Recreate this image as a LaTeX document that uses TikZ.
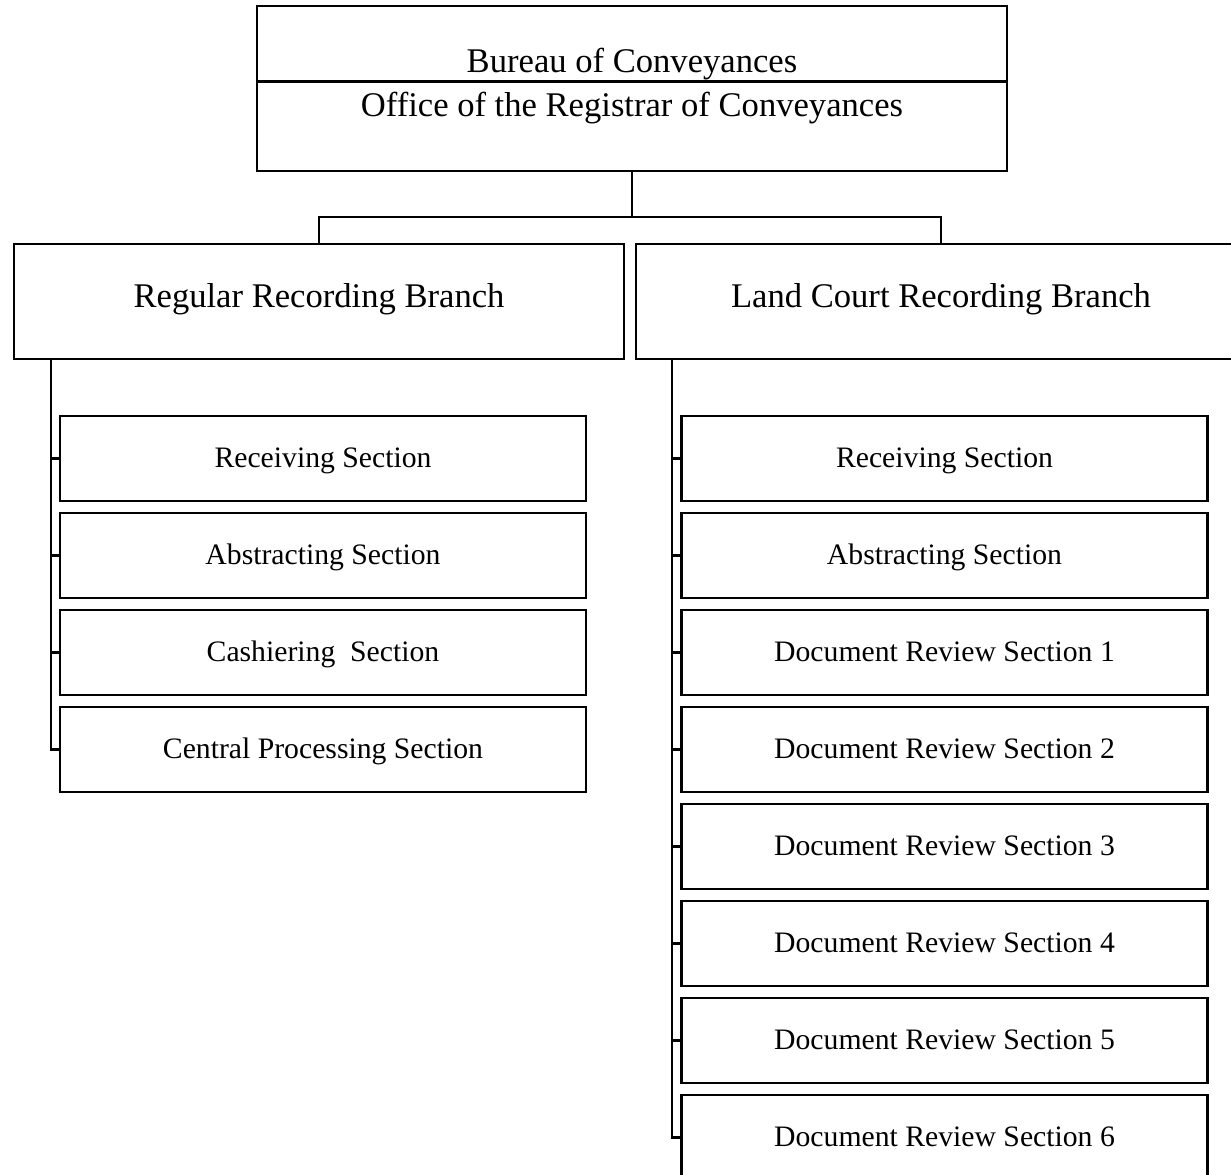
\documentclass[tikz,border=0pt]{standalone}
\usepackage{fontspec}
\setmainfont{Liberation Serif}
\begin{document}
\begin{tikzpicture}[x=1bp,y=-1bp,
  box/.style={draw,line width=2.7bp,rectangle,inner sep=0pt,outer sep=0pt},
  bigtext/.style={font=\fontsize{34.6bp}{40bp}\selectfont},
  smalltext/.style={font=\fontsize{29.7bp}{34bp}\selectfont},
  branchbox/.style={box,bigtext,minimum width=610bp,minimum height=115bp,text height=24bp,text depth=13bp},
  secbox/.style={box,smalltext,minimum width=526bp,minimum height=85bp,text height=20bp,text depth=3bp},
  conn/.style={line width=2.2bp}]
\useasboundingbox (0,0) rectangle (1231,1175);
\clip (0,0) rectangle (1231,1175);
% top
\node[box,minimum width=750bp,minimum height=165bp] (top) at (632,88.5) {};
\draw[line width=2.7bp] (top.west |- 0,81.5) coordinate (dl) -- (top.east |- dl) coordinate (dr);
\node[bigtext,inner sep=0pt,anchor=base] (bureau) at (632,72) {Bureau of Conveyances};
\node[bigtext,inner sep=0pt,anchor=base] (office) at (632,116) {Office of the Registrar of Conveyances};
% branches
\node[branchbox] (lb) at (319,301.5) {Regular Recording Branch};
\node[branchbox] (rb) at (941,301.5) {Land Court Recording Branch};
\coordinate (j) at (632,217);
\draw[conn] (top.south) -- (j);
\draw[conn] (lb.north) |- (j) -| (rb.north);
% left sections
\node[secbox] (l1) at (323,458.5) {Receiving Section};
\node[secbox] (l2) at (323,555.5) {Abstracting Section};
\node[secbox] (l3) at (323,652.5) {Cashiering\ \ Section};
\node[secbox] (l4) at (323,749.5) {Central Processing Section};
\coordinate (lt) at (51,359);
\draw[conn] (lt |- lb.south) -- (lt |- l4.west) -- (l4.west);
\foreach \n in {l1,l2,l3} \draw[conn] (lt |- \n.west) -- (\n.west);
% right sections
\node[secbox] (r1) at (944.5,458.5) {Receiving Section};
\node[secbox] (r2) at (944.5,555.5) {Abstracting Section};
\node[secbox] (r3) at (944.5,652.5) {Document Review Section 1};
\node[secbox] (r4) at (944.5,749.5) {Document Review Section 2};
\node[secbox] (r5) at (944.5,846.5) {Document Review Section 3};
\node[secbox] (r6) at (944.5,943.5) {Document Review Section 4};
\node[secbox] (r7) at (944.5,1040.5) {Document Review Section 5};
\node[secbox] (r8) at (944.5,1137.5) {Document Review Section 6};
\coordinate (rt) at (672,359);
\draw[conn] (rt |- rb.south) -- (rt |- r8.west) -- (r8.west);
\foreach \n in {r1,r2,r3,r4,r5,r6,r7} \draw[conn] (rt |- \n.west) -- (\n.west);
\end{tikzpicture}
\end{document}
